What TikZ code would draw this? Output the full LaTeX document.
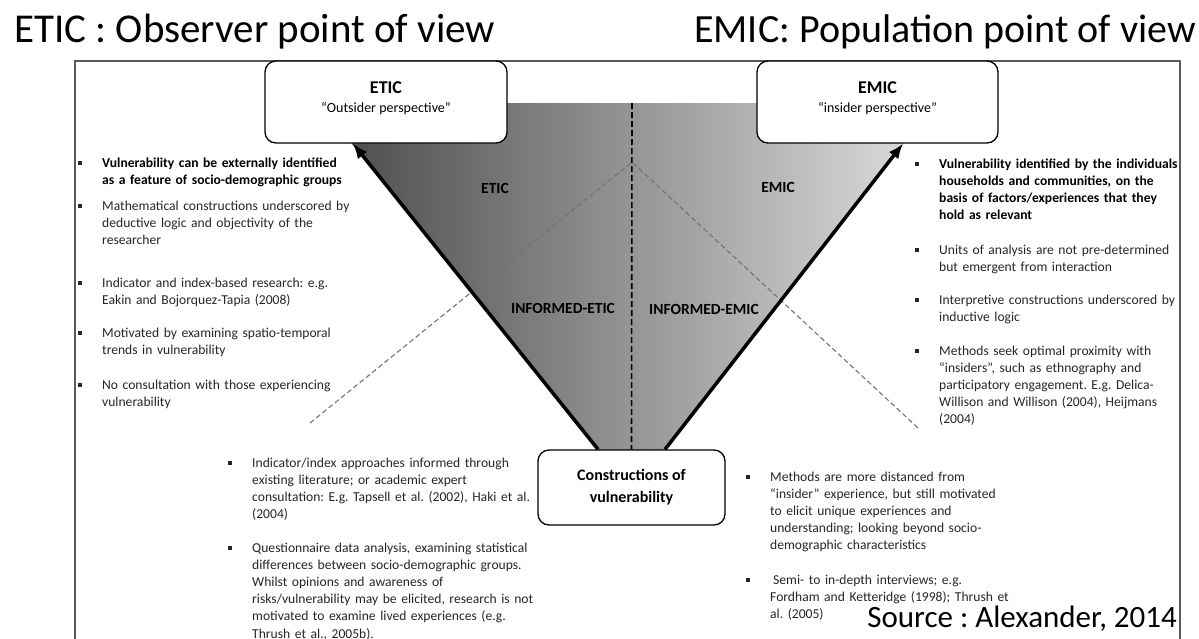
\documentclass[tikz,border=0pt]{standalone}
\usepackage{fontspec}
\setmainfont{Carlito}
\usetikzlibrary{arrows.meta, positioning}
\frenchspacing

\newcommand{\sqb}{\llap{\rule[2.5pt]{4pt}{4pt}\hspace{20pt}}}

\begin{document}
\begin{tikzpicture}[x=1pt, y=-1pt,
    persp/.style={draw=black, line width=1.3pt, rounded corners=11pt, fill=white},
    flabel/.style={font=\fontsize{15.5}{18}\selectfont\bfseries, inner sep=0pt},
    blist/.style={anchor=base west, text width=330pt, align=left, inner sep=0pt,
        text=black!85, font=\fontsize{13.6}{17.2}\selectfont},
    mainarrow/.style={line width=3.5pt, -{Latex[length=15pt,width=12pt]}},
    divide/.style={draw=black!55, line width=1.1pt, dash pattern=on 5pt off 3pt}]
\useasboundingbox (0,0) rectangle (1199,638);

% headings
\node[anchor=base west, inner sep=0pt, font=\fontsize{41}{48}\selectfont] (ettitle) at (14,42) {ETIC : Observer point of view};
\node[anchor=base west, inner sep=0pt, font=\fontsize{40}{48}\selectfont] (emtitle) at (694,42) {EMIC: Population point of view};

% outer frame
\draw[black!65, line width=1.5pt] (75,660) -- (75,61) -- (1180,61) -- (1180,660);

% funnel
\shade[left color=black!72, right color=black!12] (319,103) -- (936,103) -- (665,450) -- (598,450) -- cycle;

% perspective boxes
\node[persp, minimum width=242pt, minimum height=82pt] (etic) at (386,102) {};
\node[persp, minimum width=241pt, minimum height=82pt] (emic) at (877.5,102) {};
\node[anchor=base, font=\fontsize{18}{20}\selectfont\bfseries] (eticname) at (386,93) {ETIC};
\node[anchor=base, font=\fontsize{14}{16}\selectfont] (eticsub) at (386,112) {“Outsider perspective”};
\node[anchor=base, font=\fontsize{18}{20}\selectfont\bfseries] (emicname) at (877.5,93) {EMIC};
\node[anchor=base, font=\fontsize{14}{16}\selectfont] (emicsub) at (877.5,112) {“insider perspective”};
\node[persp, minimum width=187pt, minimum height=75pt, align=center,
    font=\fontsize{16}{22}\selectfont\bfseries] (cons) at (631.5,487.5) {Constructions of\\vulnerability};

% dividers
\coordinate (ftop) at (632,103);
\coordinate (apex) at (632,162);
\coordinate (lend) at (310,423);
\coordinate (rend) at (918,428);
\draw[line width=1.6pt, dash pattern=on 6pt off 3pt] (ftop) -- (cons.north);
\draw[divide] (lend) -- (apex) -- (rend);

% arrows to the two perspectives
\draw[mainarrow] ([xshift=-33.5pt]cons.north) -- ([xshift=-33pt]etic.south);
\draw[mainarrow] ([xshift=33.5pt]cons.north) -- ([xshift=25.5pt]emic.south);

% funnel labels
\node[flabel] (eticlab) at (495,188) {ETIC};
\node[flabel] (emiclab) at (778,187) {EMIC};
\node[flabel] (ieticlab) at (563,308) {INFORMED-ETIC};
\node[flabel] (iemiclab) at (704,309) {INFORMED-EMIC};

% observer side
\node[blist] (o1) at (102,167) {\sqb{\bfseries\color{black}Vulnerability can be externally identified\\as a feature of socio-demographic groups}};
\node[blist] (o2) at (102,210) {\sqb Mathematical constructions underscored by\\deductive logic and objectivity of the\\researcher};
\node[blist] (o3) at (102,287) {\sqb Indicator and index-based research: e.g.\\Eakin and Bojorquez-Tapia (2008)};
\node[blist] (o4) at (102,337) {\sqb Motivated by examining spatio-temporal\\trends in vulnerability};
\node[blist] (o5) at (102,389) {\sqb No consultation with those experiencing\\vulnerability};

% population side
\begin{scope}
\clip (75,61) rectangle (1179,638);
\node[blist] (p1) at (939,168) {\sqb{\bfseries\color{black}Vulnerability identified by the individuals\\households and communities, on the\\basis of factors/experiences that they\\hold as relevant}};
\node[blist] (p2) at (939,254) {\sqb Units of analysis are not pre-determined\\but emergent from interaction};
\node[blist] (p3) at (939,304) {\sqb Interpretive constructions underscored by\\inductive logic};
\node[blist] (p4) at (939,355) {\sqb Methods seek optimal proximity with\\“insiders”, such as ethnography and\\participatory engagement. E.g. Delica-\\Willison and Willison (2004), Heijmans\\(2004)};
\end{scope}

% informed-etic
\node[blist] (b1) at (252,467) {\sqb Indicator/index approaches informed through\\existing literature; or academic expert\\consultation: E.g. Tapsell et al. (2002), Haki et al.\\(2004)};
\node[blist] (b2) at (252,552) {\sqb Questionnaire data analysis, examining statistical\\differences between socio-demographic groups.\\Whilst opinions and awareness of\\risks/vulnerability may be elicited, research is not\\motivated to examine lived experiences (e.g.\\Thrush et al., 2005b).};

% informed-emic
\node[blist] (r1) at (770,481) {\sqb Methods are more distanced from\\“insider” experience, but still motivated\\to elicit unique experiences and\\understanding; looking beyond socio-\\demographic characteristics};
\node[blist] (r2) at (770,584) {\sqb\hspace{3pt}Semi- to in-depth interviews; e.g.\\Fordham and Ketteridge (1998); Thrush et\\al. (2005)};

\node[anchor=base east, inner sep=0pt, font=\fontsize{31}{36}\selectfont] (src) at (1177,627) {Source : Alexander, 2014};
\end{tikzpicture}
\end{document}
